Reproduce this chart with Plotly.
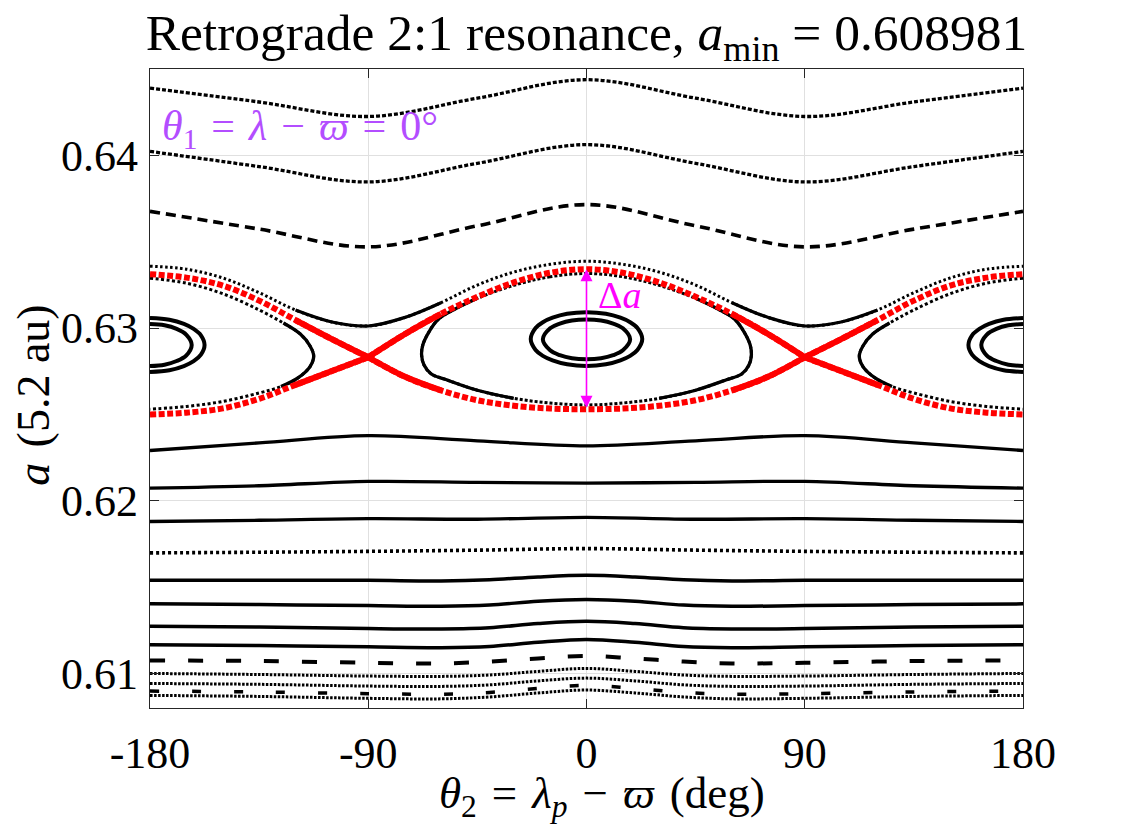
import plotly.graph_objects as go

FONT = "Liberation Serif, Times New Roman, serif"
RED = "#ff0000"
BLACK = "black"
SP = "\u2004"  # slightly wider space, closer to TeX math spacing

# theta_2 grids (deg)
theta_coarse = [-180, -135, -90, -45, 0, 45, 90, 135, 180]
theta_fine = [-180, -165, -150, -135, -120, -105, -90, -75, -60, -45, -30, -15, 0,
              15, 30, 45, 60, 75, 90, 105, 120, 135, 150, 165, 180]
theta_low = [-180, -135, -90, -60, -40, -20, 0, 20, 40, 60, 90, 135, 180]

# circulating orbits above the resonance (a in units of 5.2 au)
a_top1 = [0.64389, 0.64309, 0.64225, 0.64331, 0.64438, 0.64331, 0.64225, 0.64309, 0.64389]
a_top2 = [0.64023, 0.63935, 0.63846, 0.63954, 0.64062, 0.63954, 0.63846, 0.63935, 0.64023]
a_top3 = [0.63676, 0.63573, 0.63470, 0.63592, 0.63715, 0.63592, 0.63470, 0.63573, 0.63676]
# orbit just outside the separatrix (on theta_fine)
a_outer = [0.63358, 0.63341, 0.63290, 0.63205, 0.63104, 0.63035, 0.63012, 0.63061, 0.63147,
           0.63249, 0.63324, 0.63369, 0.63387, 0.63369, 0.63324, 0.63249, 0.63147, 0.63061,
           0.63012, 0.63035, 0.63104, 0.63205, 0.63290, 0.63341, 0.63358]

# circulating orbits below the resonance
a_low1 = [0.62291, 0.62335, 0.62377, 0.62347, 0.62318, 0.62347, 0.62377, 0.62335, 0.62291]
a_low2 = [0.62073, 0.62087, 0.62112, 0.62107, 0.62102, 0.62107, 0.62112, 0.62087, 0.62073]
a_low3 = [0.61880, 0.61887, 0.61896, 0.61893, 0.61904, 0.61893, 0.61896, 0.61887, 0.61880]
a_low4 = [0.61698, 0.61702, 0.61707, 0.61714, 0.61723, 0.61714, 0.61707, 0.61702, 0.61698]
# (on theta_low)
a_low5 = [0.61539, 0.61539, 0.61539, 0.61536, 0.61543, 0.61559, 0.61568, 0.61559, 0.61543, 0.61536, 0.61539, 0.61539, 0.61539]
a_low6 = [0.61403, 0.61399, 0.61393, 0.61389, 0.61396, 0.61418, 0.61428, 0.61418, 0.61396, 0.61389, 0.61393, 0.61399, 0.61403]
a_low7 = [0.61274, 0.61269, 0.61260, 0.61258, 0.61265, 0.61289, 0.61302, 0.61289, 0.61265, 0.61258, 0.61260, 0.61269, 0.61274]
a_low8 = [0.61166, 0.61162, 0.61154, 0.61149, 0.61156, 0.61181, 0.61197, 0.61181, 0.61156, 0.61149, 0.61154, 0.61162, 0.61166]
a_low9 = [0.61075, 0.61072, 0.61062, 0.61058, 0.61069, 0.61087, 0.61101, 0.61087, 0.61069, 0.61058, 0.61062, 0.61072, 0.61075]
a_low10 = [0.61000, 0.60994, 0.60985, 0.60983, 0.60991, 0.61012, 0.61029, 0.61012, 0.60991, 0.60983, 0.60985, 0.60994, 0.61000]
a_low11 = [0.60942, 0.60937, 0.60927, 0.60925, 0.60934, 0.60957, 0.60973, 0.60957, 0.60934, 0.60925, 0.60927, 0.60937, 0.60942]
a_low12 = [0.60898, 0.60893, 0.60883, 0.60880, 0.60890, 0.60913, 0.60931, 0.60913, 0.60890, 0.60880, 0.60883, 0.60893, 0.60898]
a_low13 = [0.60873, 0.60867, 0.60856, 0.60853, 0.60864, 0.60887, 0.60904, 0.60887, 0.60864, 0.60853, 0.60856, 0.60867, 0.60873]

# separatrix arcs (red)
sep_theta_left = [-180, -165, -150, -135, -120, -105, -90]
sep_left_upper = [0.63312, 0.63292, 0.63246, 0.63159, 0.63046, 0.62936, 0.62831]
sep_left_lower = [0.62500, 0.62510, 0.62535, 0.62590, 0.62671, 0.62751, 0.62831]
sep_theta_mid = [-90, -75, -60, -45, -30, -15, 0, 15, 30, 45, 60, 75, 90]
sep_mid_upper = [0.62831, 0.62964, 0.63082, 0.63181, 0.63264, 0.63320, 0.63341,
                 0.63320, 0.63264, 0.63181, 0.63082, 0.62964, 0.62831]
sep_mid_lower = [0.62831, 0.62719, 0.62639, 0.62582, 0.62550, 0.62534, 0.62530,
                 0.62534, 0.62550, 0.62582, 0.62639, 0.62719, 0.62831]
sep_theta_right = [90, 105, 120, 135, 150, 165, 180]
sep_right_upper = [0.62831, 0.62936, 0.63046, 0.63159, 0.63246, 0.63292, 0.63312]
sep_right_lower = [0.62831, 0.62751, 0.62671, 0.62590, 0.62535, 0.62510, 0.62500]

# libration orbit just inside the separatrix, around theta_2 = 0
lib0_theta = [0, -15, -30, -45, -55, -61, -65, -67.5, -68, -67, -64, -58, -45, -30, -15, 0,
              15, 30, 45, 58, 64, 67, 68, 67.5, 65, 61, 55, 45, 30, 15, 0]
lib0_a = [0.63316, 0.63297, 0.63247, 0.63172, 0.63104, 0.63052, 0.62977, 0.62902, 0.62844,
          0.62786, 0.62734, 0.62702, 0.62640, 0.62593, 0.62566, 0.62555, 0.62566, 0.62593,
          0.62640, 0.62702, 0.62734, 0.62786, 0.62844, 0.62902, 0.62977, 0.63052, 0.63104,
          0.63172, 0.63247, 0.63297, 0.63316]
# libration orbit around theta_2 = +-180 (two halves)
lib180_theta_left = [-180, -165, -150, -135, -125, -118, -114, -112.5, -114, -119, -126, -135, -150, -165, -180]
lib180_theta_right = [180, 165, 150, 135, 125, 118, 114, 112.5, 114, 119, 126, 135, 150, 165, 180]
lib180_a = [0.63289, 0.63260, 0.63199, 0.63105, 0.63029, 0.62965, 0.62896, 0.62838,
            0.62777, 0.62711, 0.62661, 0.62624, 0.62575, 0.62546, 0.62530]

# small libration orbits near the centres
ell0_outer_theta = [0, -8, -14, -18, -21, -23, -21, -18, -14, -8, 0, 8, 14, 18, 21, 23, 21, 18, 14, 8, 0]
ell0_outer_a = [0.63092, 0.63083, 0.63060, 0.63034, 0.63000, 0.62936, 0.62873, 0.62839, 0.62813,
                0.62790, 0.62780, 0.62790, 0.62813, 0.62839, 0.62873, 0.62936, 0.63000, 0.63034,
                0.63060, 0.63083, 0.63092]
ell0_inner_theta = [0, -6, -11, -15, -18, -15, -11, -6, 0, 6, 11, 15, 18, 15, 11, 6, 0]
ell0_inner_a = [0.63050, 0.63044, 0.63026, 0.62999, 0.62935, 0.62871, 0.62843, 0.62825, 0.62819,
                0.62825, 0.62843, 0.62871, 0.62935, 0.62999, 0.63026, 0.63044, 0.63050]
ell180_outer_left = [-180, -172, -166, -162, -159, -157.5, -159, -162, -166, -172, -180]
ell180_outer_right = [180, 172, 166, 162, 159, 157.5, 159, 162, 166, 172, 180]
ell180_outer_a = [0.63058, 0.63048, 0.63024, 0.62995, 0.62958, 0.62902, 0.62846, 0.62808,
                  0.62780, 0.62756, 0.62746]
ell180_inner_left = [-180, -174, -169, -165, -162.8, -165, -169, -174, -180]
ell180_inner_right = [180, 174, 169, 165, 162.8, 165, 169, 174, 180]
ell180_inner_a = [0.63023, 0.63016, 0.62995, 0.62961, 0.62902, 0.62842, 0.62809, 0.62788, 0.62780]

x_ticks = [-180, -90, 0, 90, 180]
x_tick_labels = ["-180", "-90", "0", "90", "180"]
y_ticks = [0.61, 0.62, 0.63, 0.64]
y_tick_labels = ["0.61", "0.62", "0.63", "0.64"]

fig = go.Figure()


def add_curve(x, y, color=BLACK, width=3.3, dash="solid"):
    fig.add_trace(go.Scatter(
        x=x, y=y, mode="lines",
        line=dict(color=color, width=width, dash=dash, shape="spline"),
        hoverinfo="skip"))


# curves above
add_curve(theta_coarse, a_top1, width=3.3, dash="4px,2px")
add_curve(theta_coarse, a_top2, width=3.3, dash="4px,2px")
add_curve(theta_coarse, a_top3, width=3.6, dash="10px,6px")
add_curve(theta_fine, a_outer, width=3.0, dash="2.5px,2.5px")
add_curve(theta_fine[4:9], a_outer[4:9], width=3.2)
add_curve(theta_fine[16:21], a_outer[16:21], width=3.2)

# curves below
add_curve(theta_coarse, a_low1)
add_curve(theta_coarse, a_low2)
add_curve(theta_coarse, a_low3)
add_curve(theta_coarse, a_low4, width=3.6, dash="3px,3px")
for a_vals in [a_low5, a_low6, a_low7, a_low8]:
    add_curve(theta_low, a_vals, width=3.5)
add_curve(theta_low, a_low9, width=4, dash="15px,23px")
add_curve(theta_low, a_low10, width=3.0, dash="2.5px,1.5px")
add_curve(theta_low, a_low11, width=3.0, dash="2.5px,1.5px")
add_curve(theta_low, a_low12, width=3.5, dash="9px,33px")
add_curve(theta_low, a_low13, width=3.0, dash="2.5px,1.5px")

# libration orbits
add_curve(lib0_theta, lib0_a, width=3.0, dash="3px,2px")
add_curve(lib0_theta[3:14], lib0_a[3:14], width=3.3)
add_curve(lib0_theta[17:28], lib0_a[17:28], width=3.3)
for th in [lib180_theta_left, lib180_theta_right]:
    add_curve(th, lib180_a, width=3.0, dash="3px,2.5px")
    add_curve(th[4:11], lib180_a[4:11], width=3.3)

add_curve(ell0_outer_theta, ell0_outer_a, width=4)
add_curve(ell0_inner_theta, ell0_inner_a, width=4)
for th in [ell180_outer_left, ell180_outer_right]:
    add_curve(th, ell180_outer_a, width=4)
for th in [ell180_inner_left, ell180_inner_right]:
    add_curve(th, ell180_inner_a, width=4)

# separatrix
for th, av in [(sep_theta_left, sep_left_upper), (sep_theta_left, sep_left_lower),
               (sep_theta_mid, sep_mid_upper), (sep_theta_mid, sep_mid_lower),
               (sep_theta_right, sep_right_upper), (sep_theta_right, sep_right_lower)]:
    add_curve(th, av, color=RED, width=6, dash="6px,2.5px")
add_curve(sep_theta_left[4:], sep_left_upper[4:], color=RED, width=6)
add_curve(sep_theta_left[4:], sep_left_lower[4:], color=RED, width=6)
add_curve(sep_theta_mid[:3], sep_mid_upper[:3], color=RED, width=6)
add_curve(sep_theta_mid[:3], sep_mid_lower[:3], color=RED, width=6)
add_curve(sep_theta_mid[-3:], sep_mid_upper[-3:], color=RED, width=6)
add_curve(sep_theta_mid[-3:], sep_mid_lower[-3:], color=RED, width=6)
add_curve(sep_theta_right[:3], sep_right_upper[:3], color=RED, width=6)
add_curve(sep_theta_right[:3], sep_right_lower[:3], color=RED, width=6)

# resonance width arrow
i0 = sep_theta_mid.index(0)
fig.add_annotation(x=0, y=sep_mid_upper[i0], ax=0, ay=sep_mid_lower[i0],
                   xref="x", yref="y", axref="x", ayref="y", text="",
                   showarrow=True, arrowside="end+start", arrowhead=2,
                   arrowsize=1.5, arrowwidth=1.6, arrowcolor="#ff00ff",
                   standoff=0, startstandoff=0)
fig.add_annotation(x=4, y=0.6319, xref="x", yref="y", text="Δ<i>a</i>",
                   showarrow=False, xanchor="left", yanchor="middle",
                   font=dict(size=38, color="#ff00ff", family=FONT))
fig.add_annotation(x=-176, y=0.6415, xref="x", yref="y",
                   text=f"<i>θ</i><sub>1</sub>{SP}={SP}<i>λ</i>{SP}−{SP}<i>ϖ</i>{SP}={SP}0°",
                   showarrow=False, xanchor="left", yanchor="middle",
                   font=dict(size=42, color="#b34dff", family=FONT))

# axis titles
fig.add_annotation(x=0.518, y=-0.138, xref="paper", yref="paper",
                   text=f"<i>θ</i><sub>2</sub>{SP}={SP}<i>λ<sub>p</sub></i>{SP}−{SP}<i>ϖ</i>{SP}(deg)",
                   showarrow=False, xanchor="center", yanchor="middle",
                   font=dict(size=45, color="black", family=FONT))
fig.add_annotation(x=-0.133, y=0.49, xref="paper", yref="paper",
                   text=f"<i>a</i>{SP}(5.2 au)", textangle=-90,
                   showarrow=False, xanchor="center", yanchor="middle",
                   font=dict(size=46, color="black", family=FONT))

fig.update_layout(
    width=1124, height=821,
    margin=dict(l=142, r=109, t=61, b=121),
    plot_bgcolor="white", paper_bgcolor="white",
    showlegend=False,
    font=dict(family=FONT, size=44, color="black"),
    title=dict(text="Retrograde 2:1 resonance, <i>a</i><sub>min</sub> = 0.608981",
               x=0.5, xref="paper", xanchor="center",
               y=0.971, yref="container", yanchor="middle",
               font=dict(size=51.5, family=FONT, color="black")),
)
fig.update_xaxes(range=[-180, 180], tickvals=x_ticks, ticktext=x_tick_labels,
                 ticks="inside", ticklen=9, tickcolor="#262626", tickwidth=1,
                 showline=True, linecolor="#262626", linewidth=1.3, mirror="ticks",
                 showgrid=True, gridcolor="#e0e0e0", gridwidth=1, zeroline=False,
                 tickfont=dict(size=44), ticklabelstandoff=6)
fig.update_yaxes(range=[0.608, 0.645], tickvals=y_ticks, ticktext=y_tick_labels,
                 ticks="inside", ticklen=9, tickcolor="#262626", tickwidth=1,
                 showline=True, linecolor="#262626", linewidth=1.3, mirror="ticks",
                 showgrid=True, gridcolor="#e0e0e0", gridwidth=1, zeroline=False,
                 tickfont=dict(size=44), ticklabelstandoff=2)

fig.write_html("out.html")
